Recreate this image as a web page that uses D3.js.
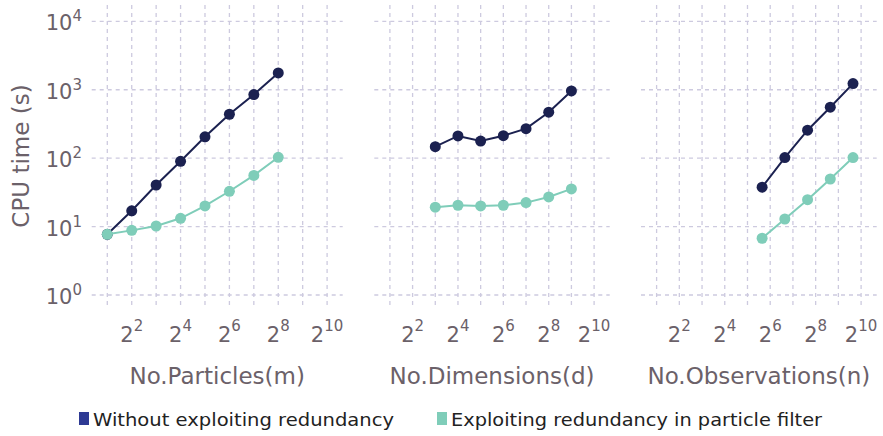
<!DOCTYPE html>
<html><head><meta charset="utf-8">
<script src="https://cdn.jsdelivr.net/npm/d3@7"></script>
<style>body{margin:0;background:#fff} text{font-family:"DejaVu Sans",Verdana,sans-serif}</style>
</head><body><svg id="c" width="883" height="436"></svg>
<script>
const seriesNames = ["Without exploiting redundancy", "Exploiting redundancy in particle filter"];
const panelTitles = ["No.Particles(m)", "No.Dimensions(d)", "No.Observations(n)"];
const particlesX = [2, 4, 8, 16, 32, 64, 128, 256];
const particlesBase = [7.7, 17, 40.5, 90, 205, 438, 850, 1760];
const particlesRedund = [7.7, 8.8, 10.2, 13.2, 20, 32.8, 56, 103];
const dimensionsX = [8, 16, 32, 64, 128, 256, 512];
const dimensionsBase = [147, 211, 178, 213, 270, 469, 960];
const dimensionsRedund = [19.2, 20.5, 20, 20.5, 22.4, 27.1, 35.5];
const observationsX = [50, 100, 200, 400, 800];
const observationsBase = [37.6, 102, 256, 555, 1228];
const observationsRedund = [6.75, 12.9, 24.7, 49.6, 102];
const yTickExps = [0, 1, 2, 3, 4];
const xTickExps = [2, 4, 6, 8, 10];
const xGridExps = [1, 2, 3, 4, 5, 6, 7, 8, 9, 10];

const colors = ["#1b2150", "#7fcdb9"];
const legendColors = ["#2e3a94", "#7fcdb9"];
const textColor = "#6b6169";
const gridColor = "#cdcadf";

const panels = [
  {x: particlesX, ys: [particlesBase, particlesRedund], title: panelTitles[0], left: 91.7, right: 342.7},
  {x: dimensionsX, ys: [dimensionsBase, dimensionsRedund], title: panelTitles[1], left: 374.3, right: 609.7},
  {x: observationsX, ys: [observationsBase, observationsRedund], title: panelTitles[2], left: 641, right: 876.7}
];
const plotTop = 5, plotBottom = 307, pad = 15.6;
const svg = d3.select("#c");
const y = d3.scaleLog().domain([1, 1e4]).range([295, 21.3]);

const yl = svg.append("g");
yTickExps.forEach(e => {
  const t = yl.append("text").attr("x", 82).attr("y", y(Math.pow(10, e)) + 9)
    .attr("text-anchor", "end").attr("fill", textColor).attr("font-size", 21);
  t.append("tspan").text("10");
  t.append("tspan").attr("font-size", 15).attr("dy", -9).text(e);
});
svg.append("text").attr("transform", `translate(29,${(plotTop + plotBottom) / 2}) rotate(-90)`)
  .attr("text-anchor", "middle").attr("fill", textColor).attr("font-size", 23).text("CPU time (s)");

panels.forEach(p => {
  const x = d3.scaleLog().base(2).domain([2, 1024]).range([p.left + pad, p.right - pad]);
  const g = svg.append("g");
  g.selectAll("line.h").data(yTickExps).join("line")
    .attr("x1", p.left).attr("x2", p.right)
    .attr("y1", e => y(Math.pow(10, e))).attr("y2", e => y(Math.pow(10, e)))
    .attr("stroke", gridColor).attr("stroke-width", 1.3).attr("stroke-dasharray", "4,4");
  g.selectAll("line.v").data(xGridExps).join("line")
    .attr("x1", e => x(Math.pow(2, e))).attr("x2", e => x(Math.pow(2, e)))
    .attr("y1", plotTop).attr("y2", plotBottom)
    .attr("stroke", gridColor).attr("stroke-width", 1.3).attr("stroke-dasharray", "4,4");
  xTickExps.forEach(e => {
    const t = g.append("text").attr("x", x(Math.pow(2, e))).attr("y", 341.5)
      .attr("text-anchor", "middle").attr("fill", textColor).attr("font-size", 21);
    t.append("tspan").text("2");
    t.append("tspan").attr("font-size", 15).attr("dy", -11).text(e);
  });
  g.append("text").attr("x", (p.left + p.right) / 2).attr("y", 384)
    .attr("text-anchor", "middle").attr("fill", textColor).attr("font-size", 23).text(p.title);
  p.ys.forEach((vals, i) => {
    const pts = p.x.map((xv, j) => [xv, vals[j]]);
    g.append("path").datum(pts)
      .attr("d", d3.line().x(d => x(d[0])).y(d => y(d[1])))
      .attr("fill", "none").attr("stroke", colors[i]).attr("stroke-width", 2);
    g.selectAll(null).data(pts).join("circle")
      .attr("cx", d => x(d[0])).attr("cy", d => y(d[1])).attr("r", 5.5)
      .attr("fill", colors[i]);
  });
});

const legX = [79, 437];
const legW = [301, 371];
seriesNames.forEach((n, i) => {
  svg.append("rect").attr("x", legX[i]).attr("y", 412).attr("width", 10).attr("height", 13)
    .attr("fill", legendColors[i]);
  svg.append("text").attr("x", legX[i] + 14).attr("y", 426).attr("fill", "#222")
    .attr("font-size", 18).attr("textLength", legW[i]).attr("lengthAdjust", "spacingAndGlyphs").text(n);
});
</script></body></html>
